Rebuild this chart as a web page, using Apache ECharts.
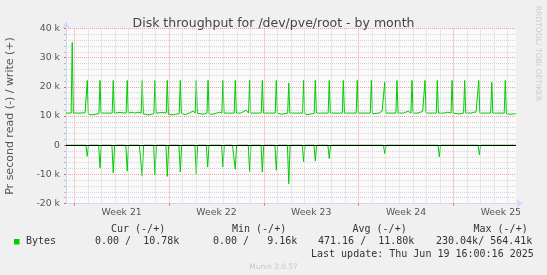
<!DOCTYPE html>
<html>
<head>
<meta charset="utf-8">
<script src="https://cdn.jsdelivr.net/npm/echarts@6/dist/echarts.min.js"></script>
<style>
html,body{margin:0;padding:0;background:#f0f0f0;}
#c{width:547px;height:275px;}
</style>
</head>
<body>
<div id="c"></div>
<script>
// ---- data (x in days from the first week line, y in k bytes/s) ----
const titleText = 'Disk throughput for /dev/pve/root - by month';
const yAxisName = 'Pr second read (-) / write (+)';
const weekLabels = ['Week 21', 'Week 22', 'Week 23', 'Week 24', 'Week 25'];
const weekLabelPos = [3.5, 10.5, 17.5, 24.5, 31.5];
const weekLines = [0, 7, 14, 21, 28];
const dayLines = [1,2,3,4,5,6,8,9,10,11,12,13,15,16,17,18,19,20,22,23,24,25,26,27,29,30,31,32];

const writeData = [
[-0.61, 11.0],
[-0.23, 11.0],[-0.15, 35.2],[-0.07, 11.0],
[0.35, 11.0],[0.80, 11.1],[0.88, 11.1],[0.96, 22.2],[1.04, 10.6],
[1.31, 10.4],[1.60, 10.6],[1.82, 10.8],[1.90, 22.2],[1.98, 11.0],
[2.34, 11.0],[2.80, 11.0],[2.88, 22.2],[2.96, 11.0],
[3.38, 11.2],[3.83, 11.0],[3.91, 22.2],[3.99, 11.0],
[4.26, 11.3],[4.45, 11.0],[4.70, 11.3],[4.94, 11.0],[5.02, 22.2],[5.10, 10.7],
[5.52, 10.4],[5.88, 10.8],[5.96, 22.2],[6.04, 11.0],
[6.53, 11.2],[6.79, 11.0],[6.87, 22.2],[6.95, 10.6],
[7.22, 10.4],[7.49, 10.6],[7.75, 10.8],[7.83, 22.2],[7.91, 10.9],
[8.20, 10.5],[8.50, 11.0],[8.77, 11.7],[8.93, 11.0],[9.01, 22.2],[9.09, 11.0],
[9.50, 10.6],[9.80, 11.0],[9.88, 22.2],[9.96, 10.7],
[10.24, 10.6],[10.72, 11.3],[10.90, 11.0],[10.98, 22.2],[11.06, 11.0],
[11.43, 11.0],[11.81, 11.0],[11.89, 22.2],[11.97, 11.0],
[12.31, 11.0],[12.70, 12.0],[12.87, 11.0],[12.95, 22.2],[13.03, 11.0],
[13.42, 11.0],[13.81, 11.0],[13.89, 22.2],[13.97, 11.0],
[14.38, 11.0],[14.84, 11.0],[14.92, 22.2],[15.00, 11.0],
[15.29, 10.6],[15.76, 11.0],[15.84, 21.3],[15.92, 11.0],
[16.37, 11.0],[16.86, 11.0],[16.94, 22.2],[17.02, 10.8],
[17.19, 10.5],[17.48, 10.7],[17.72, 10.9],[17.80, 22.2],[17.88, 11.0],
[18.29, 11.0],[18.75, 11.0],[18.83, 22.2],[18.91, 11.0],
[19.33, 11.0],[19.79, 11.0],[19.87, 22.2],[19.95, 11.0],
[20.36, 11.0],[20.82, 11.0],[20.90, 22.2],[20.98, 11.0],
[21.40, 11.0],[21.86, 11.0],[21.94, 22.2],[22.02, 10.8],
[22.14, 10.7],[22.50, 11.0],[22.73, 11.6],[22.85, 11.0],[22.93, 21.6],[23.01, 11.0],
[23.39, 11.0],[23.75, 11.0],[23.83, 22.2],[23.91, 11.0],
[24.30, 11.0],[24.65, 11.6],[24.86, 11.0],[24.94, 22.2],[25.02, 11.0],
[25.38, 11.0],[25.73, 11.6],[25.82, 11.0],[25.90, 22.2],[25.98, 11.0],
[26.34, 11.0],[26.73, 11.0],[26.81, 22.2],[26.89, 11.0],
[27.30, 11.0],[27.58, 11.3],[27.82, 11.0],[27.90, 22.2],[27.98, 11.0],
[28.41, 10.7],[28.75, 11.0],[28.83, 22.2],[28.91, 11.0],
[29.30, 11.0],[29.50, 11.3],[29.67, 11.3],[29.79, 11.0],[29.87, 22.2],[29.95, 11.0],
[30.33, 11.0],[30.75, 11.0],[30.83, 21.6],[30.91, 11.0],
[31.29, 11.0],[31.75, 11.0],[31.83, 22.2],[31.91, 10.8],
[32.18, 10.6],[32.45, 10.7],[32.60, 10.78]
];

const readData = [
[-0.61, 0],
[-0.25, 0],[-0.15, -0.5],[-0.05, 0],
[0.86, 0],[0.96, -3.8],[1.06, 0],
[1.80, 0],[1.90, -7.8],[2.00, 0],
[2.78, 0],[2.88, -9.5],[2.98, 0],
[3.81, 0],[3.91, -8.9],[4.01, 0],
[4.80, 0],[4.87, -3.1],[4.94, -3.0],[5.02, -10.6],[5.12, 0],
[5.86, 0],[5.96, -10.2],[6.06, 0],
[6.77, 0],[6.87, -10.7],[6.97, 0],
[7.73, 0],[7.83, -9.2],[7.93, 0],
[8.19, 0],[8.25, -0.6],[8.31, 0],
[8.69, 0],[8.75, -0.6],[8.81, 0],
[8.91, 0],[9.01, -10.0],[9.11, 0],
[9.75, 0],[9.85, -7.5],[9.95, 0],
[10.70, 0],[10.76, -0.6],[10.82, 0],
[10.88, 0],[10.98, -7.5],[11.08, 0],
[11.68, 0],[11.74, -0.6],[11.80, 0],[11.89, -8.2],[11.99, 0],
[12.67, 0],[12.73, -0.6],[12.79, 0],
[12.85, 0],[12.95, -9.0],[13.05, 0],
[13.79, 0],[13.89, -9.2],[13.99, 0],
[14.64, 0],[14.70, -0.6],[14.76, 0],
[14.82, 0],[14.92, -8.6],[15.02, 0],
[15.74, 0],[15.84, -13.2],[15.94, 0],
[16.84, 0],[16.94, -5.7],[17.04, 0],
[17.70, 0],[17.80, -5.4],[17.90, 0],
[18.73, 0],[18.83, -4.6],[18.93, 0],
[22.83, 0],[22.93, -2.9],[23.03, 0],
[26.86, 0],[26.96, -4.0],[27.06, 0],
[29.82, 0],[29.92, -3.3],[30.02, 0],
[30.79, 0],[30.85, -0.4],[30.91, 0],
[32.60, 0]
];

const legendHeaders = ['Cur (-/+)', 'Min (-/+)', 'Avg (-/+)', 'Max (-/+)'];
const legendName = 'Bytes';
const legendValues = ['0.00 /  10.78k', '0.00 /   9.16k', '471.16 /  11.80k', '230.04k/ 564.41k'];
const lastUpdate = 'Last update: Thu Jun 19 16:00:16 2025';
const footer = 'Munin 2.0.57';
const watermark = 'RRDTOOL/ TOBI OETIKER';

// ---- layout / style ----
const GREEN = '#00cc00';
const AXIS = '#cfd6f8';
const MINOR = '#d6d6d6';
const MAJOR = '#f0a0a0';
const FONT = 'DejaVu Sans';
const MONO = 'DejaVu Sans Mono';
const headerX = [111, 232, 352.5, 473.5];
const valueX = [95, 213, 318, 436];

const chart = echarts.init(document.getElementById('c'), null, {renderer: 'canvas'});

const graphics = [];
legendHeaders.forEach((t, i) => graphics.push({type: 'text', x: headerX[i], y: 229,
  style: {text: t, font: '10px ' + MONO, fill: '#333', textAlign: 'left', textVerticalAlign: 'middle'}}));
graphics.push({type: 'rect', shape: {x: 14, y: 239, width: 5.5, height: 5.5}, style: {fill: GREEN}});
graphics.push({type: 'text', x: 26, y: 241.5,
  style: {text: legendName, font: '10px ' + MONO, fill: '#333', textAlign: 'left', textVerticalAlign: 'middle'}});
legendValues.forEach((t, i) => graphics.push({type: 'text', x: valueX[i], y: 241.5,
  style: {text: t, font: '10px ' + MONO, fill: '#333', textAlign: 'left', textVerticalAlign: 'middle'}}));
graphics.push({type: 'text', x: 311, y: 254,
  style: {text: lastUpdate, font: '10px ' + MONO, fill: '#333', textAlign: 'left', textVerticalAlign: 'middle'}});
graphics.push({type: 'text', x: 273.5, y: 267,
  style: {text: footer, font: '7.4px ' + FONT, fill: '#c8c8c8', textAlign: 'center', textVerticalAlign: 'middle'}});
graphics.push({type: 'text', x: 538, y: 53.5, rotation: -Math.PI / 2,
  style: {text: watermark, font: '7.6px ' + FONT, fill: '#cccccc', textAlign: 'center', textVerticalAlign: 'middle'}});
// plot canvas background
graphics.push({type: 'rect', z: -10, shape: {x: 66, y: 28.5, width: 450, height: 175}, style: {fill: '#fafafa'}, silent: true});

const option = {
  animation: false,
  backgroundColor: '#f0f0f0',
  textStyle: {fontFamily: FONT},
  title: {
    text: titleText, left: 'center', top: 12,
    textStyle: {fontFamily: FONT, fontSize: 12.5, fontWeight: 'normal', color: '#444'}
  },
  grid: {left: 66, top: 28.5, width: 450, height: 175, containLabel: false, outerBoundsMode: 'none'},
  xAxis: {
    type: 'value', min: -0.61, max: 32.62,
    axisLine: {show: true, onZero: false, lineStyle: {color: AXIS, width: 1},
      symbol: ['none', 'arrow'], symbolSize: [6, 7], symbolOffset: [0, 7]},
    axisTick: {show: true, customValues: weekLines, length: 2, inside: false, lineStyle: {color: '#e06060'}},
    axisLabel: {
      customValues: weekLabelPos, margin: 5,
      formatter: v => weekLabels[weekLabelPos.indexOf(v)] || '',
      fontFamily: FONT, fontSize: 9.3, color: '#555'
    },
    splitLine: {show: false}
  },
  yAxis: {
    type: 'value', min: -20, max: 40, interval: 10,
    name: yAxisName, nameLocation: 'middle', nameRotate: 90, nameGap: 50,
    nameTextStyle: {fontFamily: FONT, fontSize: 11, color: '#555'},
    axisLine: {show: true, onZero: false, lineStyle: {color: AXIS, width: 1},
      symbol: ['none', 'arrow'], symbolSize: [6, 7], symbolOffset: [0, 7]},
    axisTick: {show: true, length: 2, lineStyle: {color: '#e06060'}},
    minorTick: {show: true, splitNumber: 5, length: 2, lineStyle: {color: '#bbbbbb'}},
    axisLabel: {
      margin: 6, fontFamily: FONT, fontSize: 9.3, color: '#555',
      formatter: v => (v === 0 ? '0' : v + ' k')
    },
    splitLine: {show: true, lineStyle: {color: MAJOR, type: [1, 1], width: 1}},
    minorSplitLine: {show: true, lineStyle: {color: MINOR, type: [1, 1], width: 1}}
  },
  graphic: graphics,
  series: [
    {
      name: 'grid-days', type: 'line', data: [], z: 1, silent: true,
      markLine: {
        silent: true, symbol: ['none', 'none'], label: {show: false}, animation: false,
        lineStyle: {color: MINOR, type: [1, 1], width: 1},
        data: dayLines.map(d => ({xAxis: d}))
      }
    },
    {
      name: 'grid-weeks', type: 'line', data: [], z: 1, silent: true,
      markLine: {
        silent: true, symbol: ['none', 'none'], label: {show: false}, animation: false,
        lineStyle: {color: MAJOR, type: [1, 1], width: 1},
        data: weekLines.map(d => ({xAxis: d}))
      }
    },
    {
      name: 'write', type: 'line', data: writeData, showSymbol: false, symbol: 'none', z: 3,
      lineStyle: {color: GREEN, width: 1}, itemStyle: {color: GREEN}
    },
    {
      name: 'read', type: 'line', data: readData, showSymbol: false, symbol: 'none', z: 3,
      lineStyle: {color: GREEN, width: 1}, itemStyle: {color: GREEN},
      markLine: {
        silent: true, symbol: ['none', 'none'], label: {show: false}, animation: false,
        lineStyle: {color: '#000000', type: 'solid', width: 1},
        data: [{yAxis: 0}]
      }
    }
  ]
};
chart.setOption(option);
</script>
</body>
</html>
